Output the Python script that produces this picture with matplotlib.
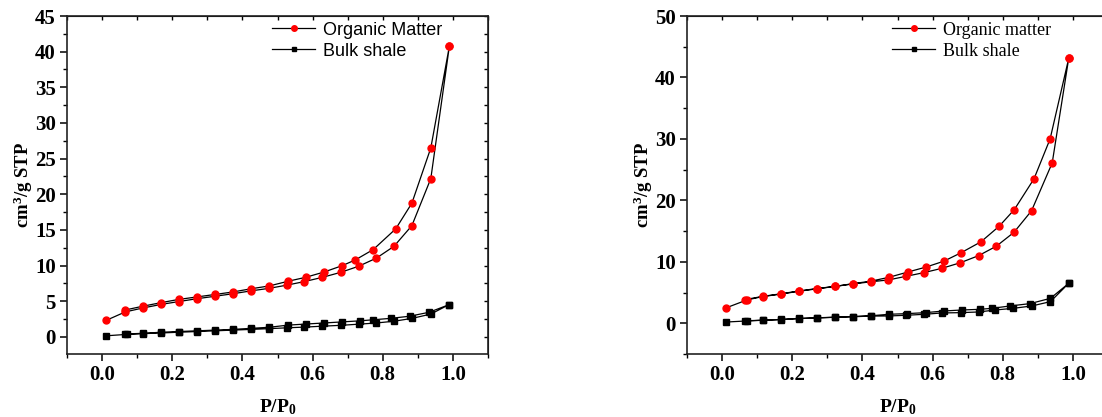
import numpy as np
import matplotlib
matplotlib.use('Agg')
import matplotlib.pyplot as plt
from matplotlib.ticker import MultipleLocator

plt.rcParams['font.family'] = 'Liberation Serif'
plt.rcParams['mathtext.fontset'] = 'custom'
plt.rcParams['mathtext.rm'] = 'Liberation Serif:bold'
plt.rcParams['mathtext.it'] = 'Liberation Serif:bold'
plt.rcParams['mathtext.bf'] = 'Liberation Serif:bold'

# --- sample 1: isotherms (adsorption up, desorption back down) ---
om1_ads_x = [0.011, 0.066, 0.116, 0.168, 0.218, 0.270, 0.322, 0.373, 0.424, 0.475,
             0.526, 0.576, 0.628, 0.680, 0.731, 0.782, 0.832, 0.883, 0.937, 0.990]
om1_ads_y = [2.3, 3.5, 4.05, 4.55, 4.95, 5.35, 5.7, 6.05, 6.45, 6.8,
             7.25, 7.75, 8.35, 9.05, 9.9, 11.05, 12.7, 15.6, 22.2, 40.8]
om1_des_x = [0.990, 0.937, 0.883, 0.837, 0.773, 0.722, 0.685, 0.633, 0.580, 0.530,
             0.477, 0.425, 0.373, 0.322, 0.270, 0.218, 0.168, 0.116, 0.064]
om1_des_y = [40.8, 26.5, 18.75, 15.15, 12.25, 10.8, 10.0, 9.1, 8.35, 7.8,
             7.15, 6.75, 6.3, 5.95, 5.6, 5.25, 4.8, 4.3, 3.75]

bs1_ads_x = [0.011, 0.070, 0.116, 0.168, 0.218, 0.270, 0.322, 0.373, 0.424, 0.475,
             0.526, 0.576, 0.628, 0.680, 0.731, 0.782, 0.833, 0.884, 0.937, 0.988]
bs1_ads_y = [0.15, 0.35, 0.45, 0.55, 0.65, 0.75, 0.85, 0.95, 1.05, 1.15,
             1.27, 1.37, 1.5, 1.62, 1.78, 1.95, 2.2, 2.6, 3.2, 4.5]
bs1_des_x = [0.988, 0.932, 0.877, 0.823, 0.773, 0.735, 0.683, 0.633, 0.580, 0.530,
             0.477, 0.425, 0.373, 0.322, 0.270, 0.218, 0.168, 0.116, 0.064]
bs1_des_y = [4.5, 3.45, 2.9, 2.6, 2.4, 2.25, 2.1, 1.95, 1.8, 1.65,
             1.35, 1.2, 1.05, 0.95, 0.85, 0.75, 0.65, 0.5, 0.4]

# --- sample 2 ---
om2_ads_x = [0.011, 0.071, 0.116, 0.168, 0.218, 0.270, 0.322, 0.373, 0.424, 0.474,
             0.525, 0.576, 0.627, 0.679, 0.731, 0.782, 0.832, 0.882, 0.941, 0.988]
om2_ads_y = [2.5, 3.8, 4.35, 4.75, 5.2, 5.6, 6.0, 6.4, 6.75, 7.05,
             7.65, 8.25, 8.95, 9.85, 11.0, 12.55, 14.8, 18.3, 26.1, 43.1]
om2_des_x = [0.988, 0.935, 0.889, 0.833, 0.790, 0.738, 0.681, 0.632, 0.581, 0.529,
             0.475, 0.424, 0.373, 0.322, 0.270, 0.218, 0.168, 0.116, 0.064]
om2_des_y = [43.1, 30.0, 23.5, 18.5, 15.8, 13.26, 11.47, 10.1, 9.14, 8.33,
             7.47, 6.85, 6.45, 6.0, 5.65, 5.25, 4.8, 4.38, 3.84]

bs2_ads_x = [0.011, 0.071, 0.116, 0.168, 0.218, 0.270, 0.322, 0.373, 0.424, 0.475,
             0.525, 0.576, 0.627, 0.680, 0.732, 0.778, 0.830, 0.883, 0.936, 0.988]
bs2_ads_y = [0.2, 0.38, 0.49, 0.6, 0.76, 0.87, 0.97, 1.06, 1.17, 1.19,
             1.3, 1.46, 1.68, 1.73, 1.84, 2.16, 2.43, 2.82, 3.52, 6.5]
bs2_des_x = [0.988, 0.936, 0.878, 0.821, 0.769, 0.734, 0.683, 0.632, 0.580, 0.527,
             0.475, 0.424, 0.373, 0.322, 0.270, 0.218, 0.168, 0.116, 0.064]
bs2_des_y = [6.5, 4.06, 3.2, 2.82, 2.43, 2.27, 2.16, 2.0, 1.73, 1.57,
             1.46, 1.22, 1.1, 0.99, 0.89, 0.78, 0.62, 0.5, 0.4]

panels = [
    dict(om=(om1_ads_x + om1_des_x, om1_ads_y + om1_des_y),
         bs=(bs1_ads_x + bs1_des_x, bs1_ads_y + bs1_des_y),
         om_label='Organic Matter', ylim=(-2.4, 45), ymaj=5,
         legend_font='Liberation Sans'),
    dict(om=(om2_ads_x + om2_des_x, om2_ads_y + om2_des_y),
         bs=(bs2_ads_x + bs2_des_x, bs2_ads_y + bs2_des_y),
         om_label='Organic matter', ylim=(-5, 50), ymaj=10,
         legend_font='Liberation Serif'),
]

W, H = 1102, 417
fig = plt.figure(figsize=(W / 100, H / 100), dpi=100)
rects = [(67, 16, 421, 338), (687, 16, 421, 338)]

for (lx, ty, w, h), p in zip(rects, panels):
    ax = fig.add_axes([lx / W, 1 - (ty + h) / H, w / W, h / H])
    ax.plot(*p['om'], color='black', lw=0.9, marker='o', ms=5,
            mfc='red', mec='red', label=p['om_label'])
    ax.plot(*p['bs'], color='black', lw=0.9, marker='s', ms=4,
            mfc='black', mec='black', label='Bulk shale')

    ax.set_xlim(-0.1, 1.1)
    ax.set_ylim(*p['ylim'])
    ax.xaxis.set_major_locator(MultipleLocator(0.2))
    ax.xaxis.set_minor_locator(MultipleLocator(0.1))
    ax.yaxis.set_major_locator(MultipleLocator(p['ymaj']))
    ax.yaxis.set_minor_locator(MultipleLocator(p['ymaj'] / 2))
    ax.xaxis.set_major_formatter(plt.FuncFormatter(lambda v, _: f'{v:.1f}'))
    ax.yaxis.set_major_formatter(plt.FuncFormatter(lambda v, _: f'{v:.0f}'))

    for s in ax.spines.values():
        s.set_linewidth(1.2)
        s.set_color('#222222')
    ax.tick_params(which='major', direction='out', length=5, width=1.1,
                   labelsize=15, pad=3)
    ax.tick_params(which='minor', direction='out', length=3, width=1.0)
    for lab in ax.get_xticklabels() + ax.get_yticklabels():
        lab.set_fontweight('bold')

    # inward ticks on top and right, Origin style
    top = ax.secondary_xaxis('top')
    top.xaxis.set_major_locator(MultipleLocator(0.2))
    top.xaxis.set_minor_locator(MultipleLocator(0.1))
    top.tick_params(which='both', direction='in', labeltop=False, length=3, width=1.0)
    right = ax.secondary_yaxis('right')
    right.yaxis.set_major_locator(MultipleLocator(p['ymaj']))
    right.yaxis.set_minor_locator(MultipleLocator(p['ymaj'] / 2))
    right.tick_params(which='both', direction='in', labelright=False, length=3, width=1.0)

    ax.set_xlabel('P/P$_0$', fontsize=14, fontweight='bold', labelpad=9)
    ax.set_ylabel('cm$^3$/g STP', fontsize=13.5, fontweight='bold', labelpad=0)

    ax.legend(loc='upper left', bbox_to_anchor=(0.47, 1.005), frameon=False,
              handlelength=2.4, handletextpad=0.4, labelspacing=0.22,
              markerscale=0.8, borderaxespad=0.0,
              prop={'family': p['legend_font'], 'size': 13})

fig.savefig('out.png', dpi=100)
